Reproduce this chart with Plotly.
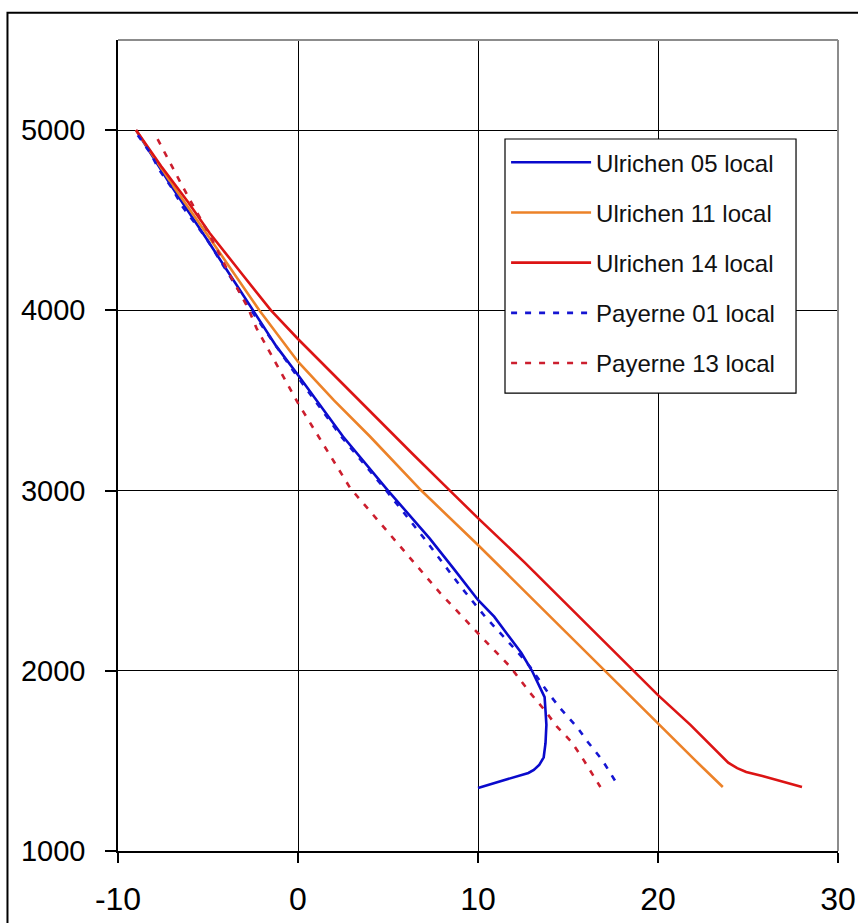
import plotly.graph_objects as go

# Temperature (°C) against altitude (m) for each sounding
u05_alt = [5000, 4700, 4400, 4000, 3800, 3641, 3300, 3000, 2736, 2560, 2393, 2300, 2209, 2100, 2000,
           1900, 1854, 1780, 1700, 1598, 1520, 1477, 1450, 1433, 1390, 1350]
u05_t = [-9.0, -7.1, -5.1, -2.5, -1.2, 0.0, 2.5, 5.0, 7.3, 8.7, 10.0, 10.9, 11.6, 12.4, 13.0,
         13.5, 13.7, 13.75, 13.8, 13.75, 13.65, 13.4, 13.1, 12.8, 11.4, 10.0]

u11_alt = [5000, 4700, 4400, 4000, 3715, 3500, 3300, 3000, 2698, 2500, 2250, 2000, 1705, 1500, 1355]
u11_t = [-9.0, -7.0, -4.9, -2.15, 0.0, 2.0, 4.0, 6.85, 10.0, 12.0, 14.5, 17.05, 20.0, 22.1, 23.6]

u14_alt = [5000, 4800, 4600, 4428, 4200, 4000, 3841, 3600, 3400, 3200, 3000, 2847, 2600, 2400,
           2200, 2000, 1865, 1700, 1600, 1530, 1490, 1460, 1438, 1416, 1383, 1355]
u14_t = [-9.0, -7.6, -6.1, -4.9, -3.1, -1.5, 0.0, 2.4, 4.4, 6.4, 8.44, 10.0, 12.6, 14.6,
         16.6, 18.6, 20.0, 21.8, 22.8, 23.5, 23.9, 24.4, 24.9, 25.8, 27.0, 28.0]

p01_alt = [4972, 4872, 4778, 4678, 4573, 4400, 4000, 3641, 3300, 3000, 2736, 2459, 2300, 2104, 2021,
           1877, 1788, 1688, 1605, 1505, 1360]
p01_t = [-8.9, -8.2, -7.7, -7.0, -6.4, -5.1, -2.6, -0.1, 2.4, 4.9, 7.0, 9.1, 10.4, 12.2, 12.9,
         13.9, 14.6, 15.5, 16.1, 16.9, 17.8]

p13_alt = [4950, 4822, 4723, 4612, 4417, 4200, 4018, 3900, 3485, 3014, 2698, 2431, 2187, 2021,
           1877, 1782, 1688, 1605, 1516, 1466, 1355]
p13_t = [-7.8, -7.1, -6.6, -6.0, -4.9, -3.8, -2.8, -2.3, 0.0, 2.9, 5.6, 7.9, 10.2, 11.8,
         12.9, 13.7, 14.4, 15.2, 15.8, 16.1, 16.8]

x_ticks = [-10, 0, 10, 20, 30]
y_ticks = [1000, 2000, 3000, 4000, 5000]

series = [
    ("Ulrichen 05 local", u05_t, u05_alt, "#0A0ACC", "solid"),
    ("Ulrichen 11 local", u11_t, u11_alt, "#EC8228", "solid"),
    ("Ulrichen 14 local", u14_t, u14_alt, "#DC1414", "solid"),
    ("Payerne 01 local", p01_t, p01_alt, "#1515D2", "6px,8px"),
    ("Payerne 13 local", p13_t, p13_alt, "#CC1E2E", "6px,8px"),
]

fig = go.Figure()
for i, (name, t, alt, color, dash) in enumerate(series):
    fig.add_trace(go.Scatter(
        x=t, y=alt, mode="lines", name=name, legendgroup=f"g{i}",
        line=dict(color=color, width=2.6, dash=dash),
    ))

font_family = "Liberation Sans, Arial, sans-serif"

fig.update_layout(
    width=858, height=923,
    margin=dict(l=118, r=20, t=40, b=72, autoexpand=False),
    paper_bgcolor="white", plot_bgcolor="white",
    showlegend=True,
    legend=dict(
        x=0.539, y=0.8765, xanchor="left", yanchor="top",
        bgcolor="rgba(0,0,0,0)", borderwidth=0,
        font=dict(family=font_family, size=24, color="#111111"),
        tracegroupgap=16, itemwidth=80,
    ),
    xaxis=dict(
        range=[-10, 30], tickvals=x_ticks, ticktext=[str(v) for v in x_ticks],
        showgrid=True, gridcolor="black", gridwidth=1.2, zeroline=False,
        showline=True, linecolor="black", linewidth=1.5,
        ticks="outside", ticklen=10, tickcolor="black", tickwidth=1.5,
        tickfont=dict(family=font_family, size=32, color="black"),
        ticklabelstandoff=9, automargin=False,
    ),
    yaxis=dict(
        range=[1000, 5500], tickvals=y_ticks, ticktext=[str(v) for v in y_ticks],
        showgrid=True, gridcolor="black", gridwidth=1.2, zeroline=False,
        showline=True, linecolor="black", linewidth=1.5,
        ticks="outside", ticklen=11, tickcolor="black", tickwidth=1.5,
        tickfont=dict(family=font_family, size=29, color="black"),
        ticklabelstandoff=14, automargin=False,
    ),
    shapes=[
        # grey top and right edges of the plotting area
        dict(type="line", xref="paper", yref="paper", x0=0, x1=1, y0=1, y1=1,
             line=dict(color="#8C8C8C", width=2), layer="above"),
        dict(type="line", xref="paper", yref="paper", x0=1, x1=1, y0=0, y1=1,
             line=dict(color="#8C8C8C", width=2), layer="above"),
        # opaque framed panel behind the legend entries
        dict(type="rect", xref="paper", yref="paper",
             x0=0.5375, x1=0.9417, y0=0.8779, y1=0.5647,
             fillcolor="white", line=dict(color="black", width=1.2), layer="above"),
        # outer frame of the chart
        dict(type="rect", xref="paper", yref="paper",
             x0=-0.1535, x1=1.05, y0=1.0335, y1=-0.12,
             line=dict(color="black", width=2), layer="below"),
    ],
)

fig.write_html("out.html")
